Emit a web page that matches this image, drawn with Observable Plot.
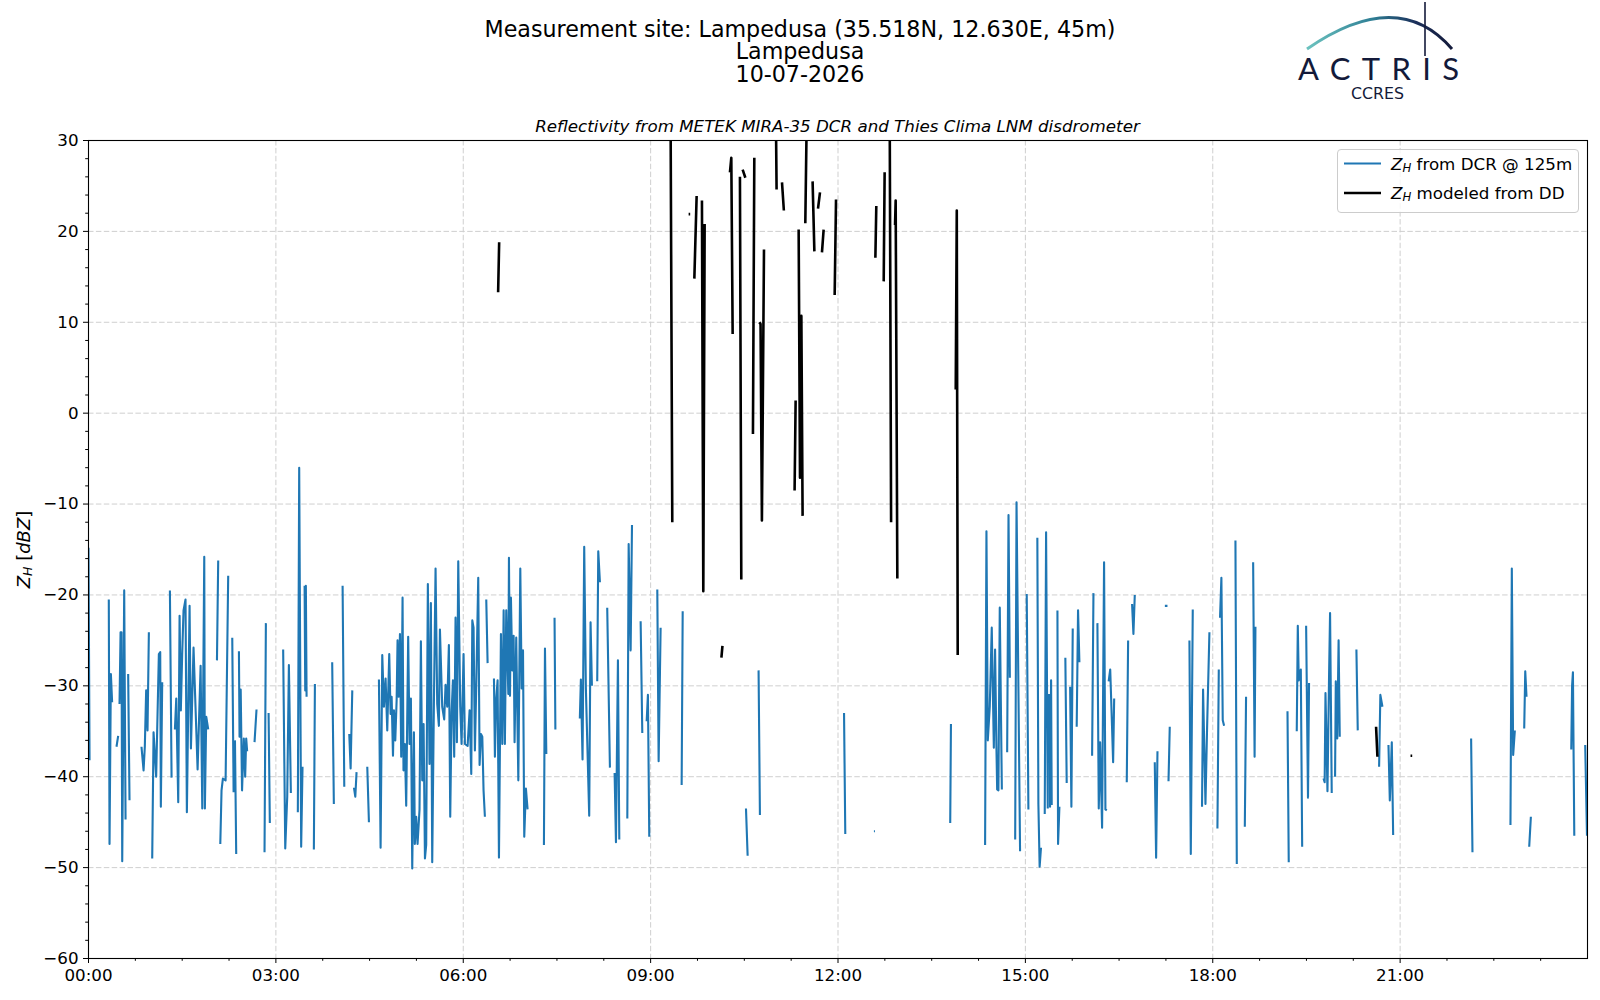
<!DOCTYPE html>
<html>
<head>
<meta charset="utf-8">
<script src="https://cdn.jsdelivr.net/npm/d3@7"></script>
<script src="https://cdn.jsdelivr.net/npm/@observablehq/plot@0.6"></script>
<style>
  body { margin: 0; background: #fff; }
  #wrap { position: relative; width: 1600px; height: 1000px; overflow: hidden; background: #fff; font-family: "DejaVu Sans", sans-serif; }
  #chart { position: absolute; left: 0; top: 0; }
  #overlay { position: absolute; left: 0; top: 0; pointer-events: none; }
</style>
</head>
<body>
<div id="wrap">
  <div id="chart"></div>
  <svg id="overlay" width="1600" height="1000" font-family="DejaVu Sans, sans-serif">
    <defs>
      <linearGradient id="arcGrad" x1="1307" y1="0" x2="1452" y2="0" gradientUnits="userSpaceOnUse">
        <stop offset="0" stop-color="#6cc3bf"/>
        <stop offset="0.45" stop-color="#2f7f95"/>
        <stop offset="0.75" stop-color="#1b2f5a"/>
        <stop offset="1" stop-color="#131a3a"/>
      </linearGradient>
    </defs>
    <!-- titles -->
    <text x="800" y="28.6" font-size="22.2" text-anchor="middle" dominant-baseline="central" fill="#000">Measurement site: Lampedusa (35.518N, 12.630E, 45m)</text>
    <text x="800" y="51.4" font-size="22.2" text-anchor="middle" dominant-baseline="central" fill="#000">Lampedusa</text>
    <text x="800" y="74.4" font-size="22.2" text-anchor="middle" dominant-baseline="central" fill="#000">10-07-2026</text>
    <text x="837.5" y="125.6" font-size="16.7" font-style="italic" text-anchor="middle" dominant-baseline="central" fill="#000">Reflectivity from METEK MIRA-35 DCR and Thies Clima LNM disdrometer</text>
    <!-- y label -->
    <text transform="translate(23,549.5) rotate(-90)" font-size="18" text-anchor="middle" dominant-baseline="central" fill="#000"><tspan font-style="italic">Z</tspan><tspan font-style="italic" font-size="12.5" dy="4">H</tspan><tspan dy="-4"> [</tspan><tspan font-style="italic">dBZ</tspan><tspan>]</tspan></text>
    <!-- legend -->
    <rect x="1337.5" y="149.5" width="241" height="63" rx="3.5" fill="#fff" fill-opacity="0.8" stroke="#cccccc" stroke-width="1"/>
    <line x1="1344" y1="163.5" x2="1381" y2="163.5" stroke="#1f77b4" stroke-width="2.2"/>
    <text x="1391" y="163.5" font-size="16.7" dominant-baseline="central" fill="#000"><tspan font-style="italic">Z</tspan><tspan font-style="italic" font-size="11.7" dy="4">H</tspan><tspan dy="-4"> from DCR @ 125m</tspan></text>
    <line x1="1344" y1="193" x2="1381" y2="193" stroke="#000" stroke-width="2.6"/>
    <text x="1391" y="193" font-size="16.7" dominant-baseline="central" fill="#000"><tspan font-style="italic">Z</tspan><tspan font-style="italic" font-size="11.7" dy="4">H</tspan><tspan dy="-4"> modeled from DD</tspan></text>
    <!-- logo -->
    <path d="M1307,49 Q1398,-14 1452,49" fill="none" stroke="url(#arcGrad)" stroke-width="3"/>
    <line x1="1425" y1="2" x2="1425" y2="56" stroke="#131a3a" stroke-width="1.6"/>
    <text x="1298" y="67.5" font-family="Lato, sans-serif" font-size="31" dominant-baseline="central" fill="#131a3a" textLength="161" lengthAdjust="spacing">ACTRIS</text>
    <text x="1351" y="93" font-size="16" dominant-baseline="central" fill="#131a3a" textLength="53" lengthAdjust="spacingAndGlyphs">CCRES</text>
  </svg>
</div>
<script>
// ---- DATA (time in minutes since 00:00 UTC, value in dBZ; null = gap) ----
const dcr00 = [
  [0,-14.8],[1,-38.2],null,
  [19.5,-20.5],[20.2,-47.4],[21.5,-28.7],[22.7,-31.8],null,
  [26.9,-36.7],[28.5,-35.5],null,
  [29.8,-32],[30.8,-24.1],[31.7,-24.1],[32.4,-49.3],[34.3,-19.5],[35.6,-44.7],null,
  [38.1,-28.7],[39.4,-42.6],null,
  [50.9,-36.7],[52.9,-39.3],[54.1,-36.7],[55.4,-30.5],[56.7,-34.9],[58,-24.1],null,
  [61.2,-49],[62.5,-35.1],[65,-40],[67.6,-26.5],[68.9,-26.3],[69.5,-43.3],[70.8,-29.6],null,
  [78.2,-19.5],[79.8,-40.1],null,
  [83,-34.8],[84.3,-31.4],[86.2,-42.8],[87.5,-22.3],[88.7,-32.7],[90,-26.5],[91.3,-21.7],[93.2,-20.5],[94.5,-43.9],[97.1,-21.2],[98.4,-36.9],[100.9,-25.8],[104.8,-39.2],[107.7,-27.8],[109.3,-43.5],[111.2,-15.8],[111.8,-43.5],[113.1,-33.4],[115,-34.8],null,
  [123.4,-27.2],[124.6,-16.2],null,
  [126.6,-47.4],[127.8,-41.5],[129.1,-40.2],[131.7,-40.4],[134.2,-17.9],null,
  [138.1,-24.7],[139.4,-41.7],null,[140.7,-36],[141.9,-48.5],null,
  [144.5,-26.2],[145.1,-35.6],[146.2,-30.4],[147.5,-41.5],[149.2,-35.8],[150.5,-40],[151.5,-35.8],[152.4,-37.2],null,
  [159.5,-36.2],[161.4,-32.6],null,
  [169.1,-48.3],[170.4,-23.1],null,
  [173,-33],[174.2,-45.1],null
];
const dcr03 = [
  [187,-26],[189,-47.9],[190.9,-42.2],[192.5,-27.7],[194.4,-41.8],null,
  [201.1,-43.9],[202.4,-6],[204.3,-47.7],[205.6,-38.9],null,
  [207.6,-19],[208.2,-30.5],[208.8,-19],[209.5,-31.2],null,
  [216.5,-48],[217.5,-29.8],null,
  [234.1,-27.4],[235.7,-43],null,
  [244.1,-19],[245.7,-41.1],null,
  [250.5,-35.3],[251.8,-39.1],[253.4,-30.5],null,
  [255,-41.2],[256.3,-42.2],[257.5,-39.5],null,
  [267.8,-38.9],[269.4,-45],null,
  [279,-29.3],[280.6,-47.8],[282.2,-26.6],[283.8,-32.3],[285.4,-29.2],[287,-34.9],[288.9,-26.5],[290.2,-33.1],[291.2,-31.2],[292.5,-37.7],[293.4,-32.7],[294.7,-36],[296,-31.6],[296.9,-25],[297.9,-31.2],[299.2,-24.3],
  [300.4,-37.8],[301.7,-20.3],[302.6,-39.3],[303.9,-36.4],[305.2,-43.2],[307.1,-24.6],[308.4,-36.4],[309.7,-31.4],[311,-50.1],[312.6,-35.1],[313.5,-47.4],[314.8,-44.4],[316.1,-47.4],[318,-43.6],[319.3,-25.1],[320.6,-40.4],[321.9,-34.2],[323.2,-49],[324.4,-47.5],[326,-18.8],[327.6,-38.6],[328.9,-20.9],[330.2,-49.4],[331.8,-32],[333.4,-17.1],[335,-32],[336.6,-34.4],[337.6,-23.8],[339.8,-32.3],[341.7,-33.7],[343,-29.9],[344.6,-32.3],[346.2,-25.5],[347.5,-44.4],[348.8,-32.9],[350.1,-29.4],[351.3,-37.8],[352.6,-22.5],[353.9,-36.2],[355.2,-16.3],[357.1,-32.3],[358.4,-36.4]
];
const dcr06 = [
  [360.3,-26.5],[361.6,-36.4],[364.2,-36.6],[366.1,-32.7],[367.7,-39.7],[368.7,-22.8],[369.9,-23.6],[371.2,-37.1],[372.5,-30],[374.4,-18.1],[375.7,-38.7],[377,-35.3],[378.3,-35.6],[379.5,-41.5],[380.8,-44.4],null,
  [382.1,-20.5],[383.4,-27.5],null,
  [389.5,-29.2],[390.4,-37.8],[391.7,-31.4],[393,-29.4],[394.3,-48.9],[396.2,-24.3],[397.5,-36.4],[398.8,-21.7],[400,-36.4],[401.3,-21.7],[403.3,-30.9],[403.9,-15.9],[404.9,-31.1],[405.8,-20.3],[407.1,-28.3],[408.4,-24.5],[409.3,-36.2],[410.9,-24.7],[412.9,-40.4],[414.8,-17.1],[416.1,-30.3],[417.4,-26.1],[418.6,-46.6],[420.2,-41.3],[421.8,-43.6],null,
  [437.5,-47.5],[438.5,-25.9],[439.8,-37.5],null,
  [447.7,-22.5],[448.5,-34.8],null,
  [472,-33.6],[473,-29.3],[474.6,-38.1],[476.2,-14.7],[477.8,-30.3],[481,-44.3],[482.3,-23],[483.6,-30],null,
  [488.7,-29.5],[489.7,-15.2],[491.3,-18.6],null,
  [498.3,-21.4],[500.9,-39],null,
  [505.4,-39.6],[506.7,-47.2],[508.6,-27.2],[509.9,-46.9],null,
  [517.6,-44.6],[518.9,-14.4],[520.8,-26.1],[522.1,-12.3],null,
  [530.4,-22.9],[532,-35.2],null,
  [536.2,-33.9],[537.4,-31],[538.7,-46.6],null
];
const dcr09 = [
  [546.4,-19.4],[547.7,-38.3],[549.6,-23.6],null,
  [569.8,-40.9],[570.8,-21.8],null,
  [631.6,-43.5],[633.2,-48.7],null,
  [643.7,-28.3],[645,-44.2],null,
  [725.8,-33],[727,-46.3],null,
  [754.5,-46],[755.5,-46],null,
  [827.8,-45.1],[828.5,-34.2],null,
  [861.3,-47.5],[862.6,-13],[863.9,-36],[865.8,-32.3],[867.7,-23.6],[869.7,-36.8],[870.9,-26],[872.2,-36.8],[872.9,-41.4],[874.1,-41.5],[875.4,-21.4],[877.4,-41.4],null,
  [882.5,-37.3],[883.8,-11.2],[885.1,-29.1],null,
  [890.2,-46.9],[891.5,-9.8],[894.9,-48.2],null
];
const dcr15 = [
  [901.3,-19.9],[902.9,-43.6],null,
  [911.5,-13.7],[912.5,-43],[913.7,-49.9],[915,-47.8],null,
  [918.6,-44.1],[919.9,-13.1],[921.5,-43.5],null,
  [922.6,-30.9],[923.7,-43.3],[924.7,-29.4],[925.3,-43.1],null,
  [930.8,-21.7],[931.4,-47.4],[932.7,-43.3],null,
  [938.4,-26.9],[939.7,-40.7],null,
  [943,-30.1],[944.2,-43.3],[945.5,-23.7],null,
  [949.3,-34.5],[950.6,-21.7],[951.9,-27.4],null,
  [964.1,-37.7],[965.4,-19.8],null,
  [969.2,-23.1],[970.5,-43.5],[971.8,-36.2],[973.7,-45.6],[975.6,-16.4],[976.9,-43.6],[978.2,-43.7],null,
  [980,-29.5],[981.5,-28.2],[983,-33.6],[984.3,-38.4],[985.3,-31.4],null,
  [997.4,-40.6],[998.7,-25],null,
  [1002.5,-21],[1003.8,-24.3],[1005.1,-20],null,
  [1024.3,-38.4],[1025.6,-48.9],[1026.9,-37.2],null,
  [1034,-21.2],[1036.5,-21.2],null,
  [1037.5,-40.5],[1038.7,-34.5],null,
  [1057.6,-25],[1058.9,-48.5],[1060.8,-21.6],null,
  [1069.7,-43.3],[1070.7,-30.4],[1073,-43],[1074.5,-34.9],[1076.8,-24.1],null
];
const dcr18 = [
  [1084.5,-45.7],[1085.8,-28.2],null,
  [1087,-22.5],[1088.3,-18.1],[1089.6,-33.8],[1090.9,-34.4],null,
  [1101.8,-14],[1103.1,-49.6],null,
  [1110.8,-45.5],[1112,-31.2],null,
  [1118.8,-16.4],[1120.2,-37.8],[1121,-23.5],null,
  [1151.8,-32.8],[1153,-49.4],null,
  [1160.7,-35],[1161.7,-23.4],[1162.6,-29.4],[1164.6,-28.2],[1165.9,-47.7],null,
  [1169.7,-23.4],[1171.5,-42.3],[1172.5,-29.7],null,
  [1186.4,-40.2],[1187.5,-40.6],[1188.3,-30.8],[1190.2,-41.6],[1191.8,-28.4],[1192.7,-22],[1194.3,-41.8],null,
  [1197.5,-40],[1198.2,-29.5],[1199.6,-35.8],[1200.9,-25],[1202,-35.6],null,
  [1218,-26],[1219.3,-34.9],null,
  [1239.8,-38.9],[1241,-31],[1243,-32.3],null,
  [1248.8,-36.5],[1250.1,-42.6],[1252,-36.2],[1253.3,-46.4],null,
  [1328.2,-35.8],[1329.5,-48.3],null,
  [1366,-45.3],[1367.3,-17.1],[1368.6,-37.6],[1370.2,-34.9],null,
  [1379.2,-34.7],[1380.2,-28.4],[1381.4,-31.2],null,
  [1384,-47.7],[1385.6,-44.4],null,
  [1424.4,-37],[1425.2,-30],[1426,-28.5],[1427.3,-46.5],null,
  [1437.8,-36.5],[1439.5,-46.5]
];
const ddModel = [
  [393.5,13.3],[394.5,18.8],null,
  [559.2,32],[560.8,-12],null,
  [576.5,21.9],[578,21.9],null,
  [582,14.8],[584.2,23.9],null,
  [589.3,23.4],[590.6,-19.6],[591.9,20.8],null,
  [608,-26.9],[609,-25.6],null,
  [616.2,26.5],[617.5,28.1],[618.8,8.7],null,
  [625.8,26],[627.1,-18.3],null,
  [628.4,26.8],[631,25.9],null,
  [638.3,-2.3],[639.6,28.1],null,
  [644.4,10],[645.6,9.8],[646.9,-11.8],[648.9,18],null,
  [660.4,32],[661,24.6],null,
  [666.2,25.4],[668,22.3],null,
  [678.3,-8.5],[679.3,1.4],null,
  [682.2,20.2],[683.5,-7.1],[684.8,10.7],[686,-11.3],null,
  [688.6,20.9],[689.9,32],null,
  [695.6,25.5],[697.3,17.8],null,
  [700.8,22.5],[702.7,24.3],null,
  [704.6,17.7],[706.2,20.2],null,
  [716.8,13],[718.1,23.5],null,
  [755.9,17.1],[756.8,22.8],null,
  [763.9,14.5],[764.8,26.5],null,
  [769.7,32],[771,-12],null,
  [774.8,20.7],[775.4,23.4],[777,-18.2],null,
  [833.1,2.6],[834.1,22.3],[835,-26.6],null,
  [1236.9,-34.5],[1238.2,-37.8],null,
  [1270,-37.7],[1271.6,-37.7]
];
const xMajorTicks = [0, 180, 360, 540, 720, 900, 1080, 1260];
const yMajorTicks = [-60, -50, -40, -30, -20, -10, 0, 10, 20, 30];

// ---- BUILD ----
const toRows = a => a.map(p => p ? {t: p[0], z: p[1]} : {t: NaN, z: NaN});
const dcrRows = toRows([...dcr00, ...dcr03, ...dcr06, ...dcr09, ...dcr15, ...dcr18]);
const ddRows = toRows(ddModel);
const xMinorTicks = d3.range(0, 1440, 45).filter(m => m % 180 !== 0);
const yMinorTicks = d3.range(-60, 31, 2).filter(v => v % 10 !== 0);
const fmtX = m => d3.format("02")(m / 60) + ":00";
const fmtY = v => v < 0 ? "\u2212" + Math.abs(v) : String(v);
const gridStyle = {stroke: "#cfcfcf", strokeOpacity: 1, strokeWidth: 1, strokeDasharray: "5.5,2.4"};

const chart = Plot.plot({
  width: 1600,
  height: 1000,
  marginLeft: 88,
  marginRight: 13,
  marginTop: 140,
  marginBottom: 42,
  x: {domain: [0, 1440]},
  y: {domain: [-60, 30]},
  style: {fontFamily: '"DejaVu Sans", sans-serif', fontSize: "16.7px", color: "#000", background: "transparent", overflow: "visible"},
  marks: [
    Plot.gridX(xMajorTicks.filter(m => m > 0), gridStyle),
    Plot.gridY(yMajorTicks.filter(v => v > -60 && v < 30), gridStyle),
    Plot.line(dcrRows, {x: "t", y: "z", stroke: "#1f77b4", strokeWidth: 2.1, strokeLinejoin: "round", strokeLinecap: "butt", clip: true}),
    Plot.line(ddRows, {x: "t", y: "z", stroke: "#000", strokeWidth: 2.6, strokeLinejoin: "round", strokeLinecap: "butt", clip: true}),
    Plot.axisX({ticks: xMajorTicks, tickSize: 5, tickPadding: 6, tickFormat: fmtX, fontSize: 16.7, label: null}),
    Plot.axisX({ticks: xMinorTicks, tickSize: 2.8, tickFormat: () => "", label: null}),
    Plot.axisY({ticks: yMajorTicks, tickSize: 5, tickPadding: 5, tickFormat: fmtY, fontSize: 16.7, label: null}),
    Plot.axisY({ticks: yMinorTicks, tickSize: 2.8, tickFormat: () => "", label: null}),
    Plot.frame({stroke: "#000", strokeWidth: 1.1})
  ]
});
document.getElementById("chart").appendChild(chart);
</script>
</body>
</html>
